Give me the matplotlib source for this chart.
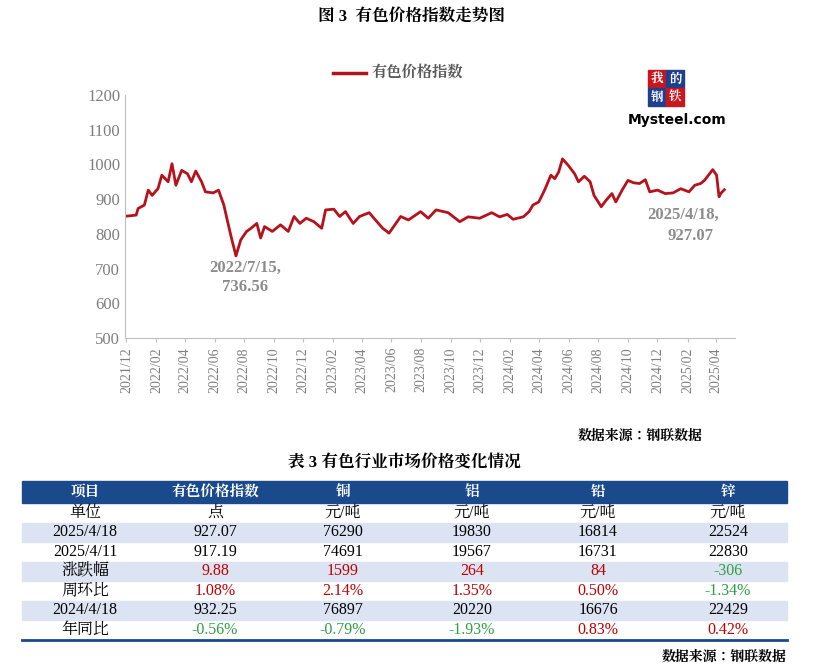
import matplotlib
matplotlib.use("Agg")
import matplotlib.pyplot as plt
import pandas as pd
from matplotlib.patches import Rectangle

plt.rcParams['font.family'] = ['Liberation Serif', 'Noto Serif CJK JP']
CJK = 'Noto Serif CJK JP'

dates = ["2021-12-01","2021-12-21","2021-12-25","2022-01-07","2022-01-15","2022-01-23","2022-02-04","2022-02-12",
"2022-02-25","2022-03-05","2022-03-13","2022-03-25","2022-04-06","2022-04-14","2022-04-23","2022-05-05","2022-05-13",
"2022-05-29","2022-06-09","2022-06-20","2022-06-27","2022-07-05","2022-07-15","2022-07-25","2022-08-06","2022-08-15",
"2022-08-27","2022-09-04","2022-09-12","2022-09-28","2022-10-15","2022-10-31","2022-11-12","2022-11-24","2022-12-07",
"2022-12-23","2023-01-08","2023-01-16","2023-02-02","2023-02-14","2023-02-26","2023-03-14","2023-03-27","2023-04-16",
"2023-05-02","2023-05-14","2023-05-27","2023-06-08","2023-06-20","2023-07-06","2023-07-31","2023-08-16","2023-09-01",
"2023-09-26","2023-10-20","2023-11-06","2023-11-30","2023-12-25","2024-01-10","2024-01-26","2024-02-07","2024-02-28",
"2024-03-11","2024-03-19","2024-03-31","2024-04-12","2024-04-25","2024-05-03","2024-05-11","2024-05-19","2024-05-31",
"2024-06-13","2024-06-21","2024-07-03","2024-07-15","2024-07-23","2024-08-07","2024-08-17","2024-08-29","2024-09-06",
"2024-09-19","2024-10-01","2024-10-13","2024-10-25","2024-11-06","2024-11-15","2024-12-01","2024-12-17","2025-01-02",
"2025-01-18","2025-02-04","2025-02-16","2025-02-28","2025-03-08","2025-03-25","2025-04-02","2025-04-07","2025-04-11","2025-04-18"]
index_vals = [851,854,873,883,926,911,930,969,950,1002,940,983,973,950,981,950,921,918,926,883,840,792,736.56,783,807,816,
830,788,821,807,826,807,850,830,845,835,816,869,871,850,864,830,850,861,835,816,802,826,850,840,864,845,869,861,835,849,
845,861,849,856,842,849,864,883,892,926,969,959,978,1016,997,973,950,966,950,911,878,897,916,892,926,954,947,945,956,921,
926,916,918,930,921,940,945,954,985,969,907,917.19,927.07]

col_headers = ["项目", "有色价格指数", "铜", "铝", "铅", "锌"]
table_rows = [
    ["单位", "点", "元/吨", "元/吨", "元/吨", "元/吨"],
    ["2025/4/18", "927.07", "76290", "19830", "16814", "22524"],
    ["2025/4/11", "917.19", "74691", "19567", "16731", "22830"],
    ["涨跌幅", "9.88", "1599", "264", "84", "-306"],
    ["周环比", "1.08%", "2.14%", "1.35%", "0.50%", "-1.34%"],
    ["2024/4/18", "932.25", "76897", "20220", "16676", "22429"],
    ["年同比", "-0.56%", "-0.79%", "-1.93%", "0.83%", "0.42%"],
]

W, H = 822, 672
fig = plt.figure(figsize=(W/100, H/100), dpi=100)
ax = fig.add_axes([125/W, 1-338/H, 610/W, 243/H])
x = pd.to_datetime(dates)
ax.plot(x, index_vals, color='#B5121B', lw=2)
ax.set_ylim(500, 1200)
ax.set_yticks(range(500, 1201, 100))
ax.set_xlim(pd.Timestamp("2021-11-28"), pd.Timestamp("2025-05-10"))
ticks = pd.date_range("2021-12-01", "2025-04-01", freq="2MS")
ax.set_xticks(ticks)
ax.set_xticklabels([t.strftime("%Y/%m") for t in ticks], rotation=90, fontsize=10, color='#7f7f7f')
ax.tick_params(axis='y', labelsize=12, colors='#7f7f7f', length=0)
ax.tick_params(axis='x', length=3, color='#bfbfbf')
for s in ['top', 'right']:
    ax.spines[s].set_visible(False)
for s in ['left', 'bottom']:
    ax.spines[s].set_color('#bfbfbf')

ov = fig.add_axes([0, 0, 1, 1], facecolor='none')
ov.set_xlim(0, W); ov.set_ylim(H, 0); ov.axis('off')

ov.text(411, 18, "图 3  有色价格指数走势图", ha='center', va='center', fontsize=12, fontweight='bold')
ov.plot([333, 366], [73, 73], color='#B5121B', lw=2.5)
ov.text(372, 73, "有色价格指数", ha='left', va='center', fontsize=11, color='#595959', fontweight='bold')
ov.text(245, 268, "2022/7/15,", ha='center', va='center', fontsize=12, color='#8c8c8c', fontweight='bold')
ov.text(245, 287, "736.56", ha='center', va='center', fontsize=12, color='#8c8c8c', fontweight='bold')
ov.text(683, 215, "2025/4/18,", ha='center', va='center', fontsize=12, color='#8c8c8c', fontweight='bold')
ov.text(690, 236, "927.07", ha='center', va='center', fontsize=12, color='#8c8c8c', fontweight='bold')
# logo
ov.add_patch(Rectangle((648, 70), 18, 18, color='#C8161D'))
ov.add_patch(Rectangle((666, 70), 18, 18, color='#1F3F8F'))
ov.add_patch(Rectangle((648, 88), 18, 18, color='#1F3F8F'))
ov.add_patch(Rectangle((666, 88), 18, 18, color='#C8161D'))
for (cx, cy, ch) in [(657, 79, "我"), (675, 79, "的"), (657, 97, "钢"), (675, 97, "铁")]:
    ov.text(cx, cy, ch, ha='center', va='center', fontsize=9, color='white', fontweight='bold', family=CJK)
ov.text(677, 120, "Mysteel.com", ha='center', va='center', fontsize=10, fontweight='bold', family='DejaVu Sans')

ov.text(703, 436, "数据来源：钢联数据", ha='right', va='center', fontsize=10, fontweight='bold')
ov.text(404, 463, "表 3 有色行业市场价格变化情况", ha='center', va='center', fontsize=12, fontweight='bold')

left, right = 22, 787
col_x = [85, 215, 343, 472, 598, 728]
ov.add_patch(Rectangle((left, 481), right-left, 22, color='#1B4A8C'))
for cx, h in zip(col_x, col_headers):
    ov.text(cx, 492, h, ha='center', va='center', fontsize=10.5, color='white', fontweight='bold')
row_top = 503
rh = 19.5
green, red = '#2EA043', '#C00000'
for i, row in enumerate(table_rows):
    y0 = row_top + i*rh
    if i in (1, 3, 5):
        ov.add_patch(Rectangle((left, y0), right-left, rh, color='#DCE3F2'))
    for j, (cx, v) in enumerate(zip(col_x, row)):
        c = 'black'
        if i in (3, 4, 6) and j > 0:
            c = green if v.startswith('-') else red
        ov.text(cx, y0+rh/2, v, ha='center', va='center', fontsize=11.5, color=c)
ov.plot([left, right], [row_top+7*rh, row_top+7*rh], color='#1B4A8C', lw=2)
ov.text(787, 657, "数据来源：钢联数据", ha='right', va='center', fontsize=10, fontweight='bold')

fig.savefig("out.png", dpi=100)
